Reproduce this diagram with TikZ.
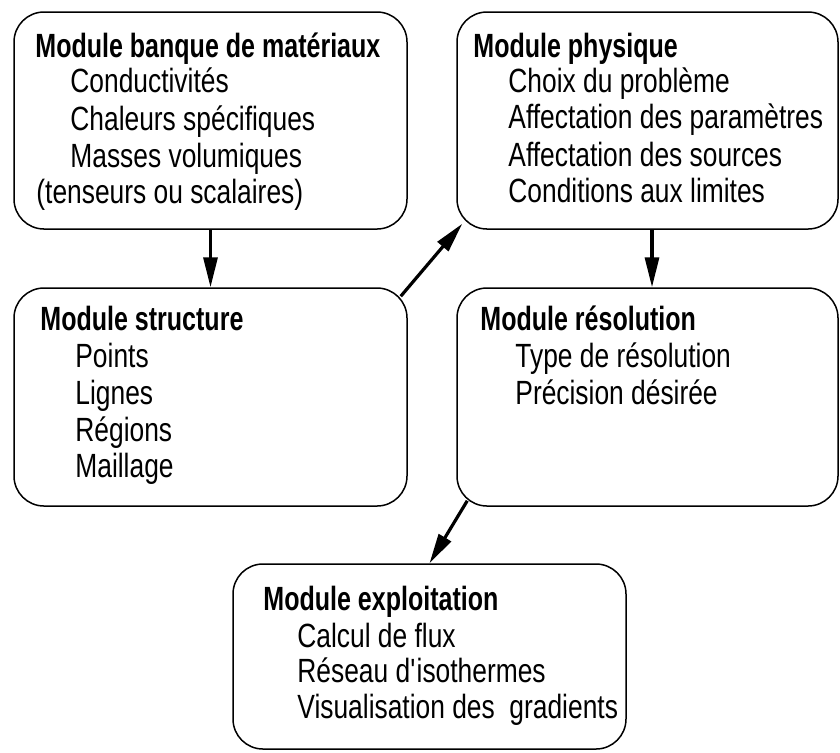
\documentclass[tikz,border=0pt]{standalone}
\usepackage{fontspec}
\setmainfont{Liberation Sans}[FakeStretch=0.785, BoldFeatures={FakeStretch=0.745}]
\usetikzlibrary{arrows.meta}
\tikzset{
  box/.style={draw, line width=0.75pt, rounded corners=15pt, inner sep=0pt},
  txt/.style={anchor=base west, inner sep=0pt, font=\fontsize{16.8pt}{18.5pt}\selectfont},
  ttl/.style={txt, font=\fontsize{16.8pt}{18.5pt}\selectfont\bfseries},
  arr/.style={line width=1.6pt, -{Triangle[length=15pt,width=7pt]}}
}
\begin{document}
\begin{tikzpicture}[x=0.5pt,y=-0.5pt]
\useasboundingbox (0,0) rectangle (840,752);
% boxes
\node[box, minimum width=196.5pt, minimum height=108.5pt] (b1) at (210.5,120.5) {};
\node[box, minimum width=190.5pt, minimum height=108.5pt] (b2) at (647.5,120.5) {};
\node[box, minimum width=196.5pt, minimum height=109pt] (b3) at (210.5,397) {};
\node[box, minimum width=190.5pt, minimum height=109pt] (b4) at (647.5,397) {};
\node[box, minimum width=196.5pt, minimum height=92.5pt] (b5) at (429.5,656.5) {};
% box 1
\node[ttl] (t1) at (35,57) {Module banque de matériaux};
\node[txt] (t1a) at (70,92) {Conductivités};
\node[txt] (t1b) at (70,130) {Chaleurs spécifiques};
\node[txt] (t1c) at (70,167) {Masses volumiques};
\node[txt] (t1d) at (36,203) {(tenseurs ou scalaires)};
% box 2
\node[ttl] (t2) at (473,57) {Module physique};
\node[txt] (t2a) at (508,92) {Choix du problème};
\node[txt] (t2b) at (508,128) {Affectation des paramètres};
\node[txt] (t2c) at (508,166) {Affectation des sources};
\node[txt] (t2d) at (508,202) {Conditions aux limites};
% box 3
\node[ttl] (t3) at (40,330) {Module structure};
\node[txt] (t3a) at (75,367) {Points};
\node[txt] (t3b) at (75,404) {Lignes};
\node[txt] (t3c) at (75,441) {Régions};
\node[txt] (t3d) at (75,477) {Maillage};
% box 4
\node[ttl] (t4) at (480,330) {Module résolution};
\node[txt] (t4a) at (515,367) {Type de résolution};
\node[txt] (t4b) at (515,404) {Précision désirée};
% box 5
\node[ttl] (t5) at (263,610) {Module exploitation};
\node[txt] (t5a) at (297,647) {Calcul de flux};
\node[txt] (t5b) at (297,682) {Réseau d\textquotesingle isothermes};
\node[txt] (t5c) at (297,718) {Visualisation des\ \ gradients};
% arrows
\draw[arr] (b1.south) -- (b3.north);
\draw[arr] ([shift={(-7,9)}]b3.north east) -- ([shift={(6,-6)}]b2.south west);
\draw[arr] ([xshift=2.25pt]b2.south) -- ([xshift=2.25pt]b4.north);
\draw[arr] ([shift={(11,-6)}]b4.south west) -- (b5.north);
\end{tikzpicture}
\end{document}
